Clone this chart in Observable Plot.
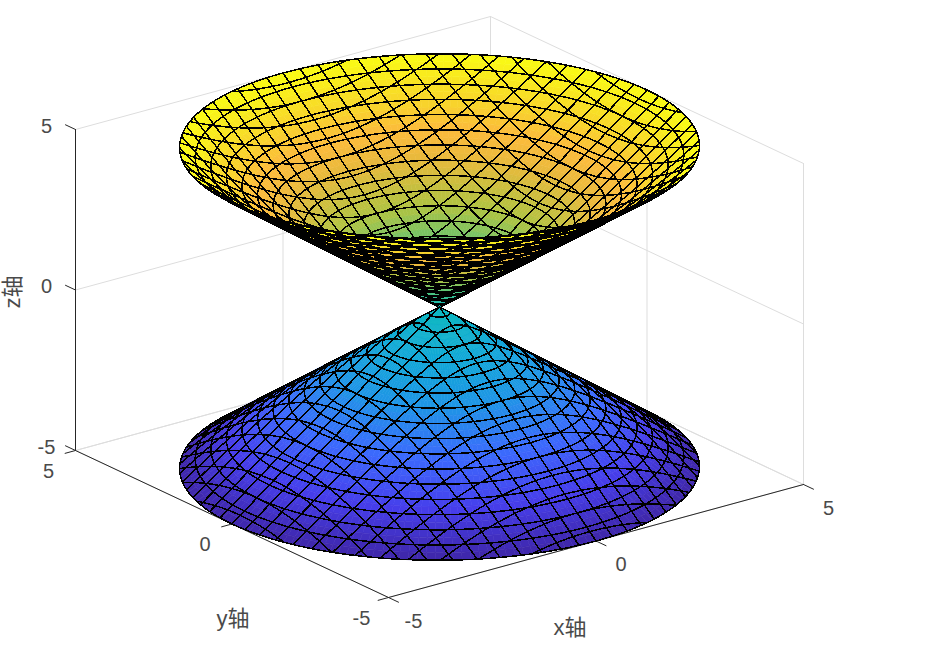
<!DOCTYPE html>
<html>
<head>
<meta charset="utf-8">
<script src="https://cdn.jsdelivr.net/npm/d3@7"></script>
<script src="https://cdn.jsdelivr.net/npm/@observablehq/plot@0.6"></script>
<style>html,body{margin:0;background:#fff}svg{display:block}</style>
</head>
<body>
<div id="chart"></div>
<script>
// Axis values
const xTicks = [-5, 0, 5];
const yTicks = [-5, 0, 5];
const zTicks = [-5, 0, 5];
const axisLabels = ["x轴", "y轴", "z轴"];
// Mesh lines: rings (radius) and lattice lines (x or y = c)
const ringRadii = [0.2, 0.5, 0.8, 1.1, 1.4, 1.7, 2, 2.3, 2.6, 2.9, 3.2, 3.5, 3.8, 4.1, 4.4, 4.7, 5];
const latticeOffsets = [-4.8, -4.4, -4, -3.6, -3.2, -2.8, -2.4, -2, -1.6, -1.2, -0.8, -0.4, 0, 0.4, 0.8, 1.2, 1.6, 2, 2.4, 2.8, 3.2, 3.6, 4, 4.4, 4.8];
// Height-to-colour stops
const colorZ = [-5, -4, -3, -2, -1, 0, 1, 2, 3, 3.5, 4, 5];
const colorRGB = ["#3e26a8", "#463eeb", "#3c69fd", "#1f94e6", "#10a9d6", "#0fb9be", "#4bc382", "#afc341", "#ebb93c", "#fcbb3c", "#f8d22d", "#f9fb14"];
// Mesh line weight of each visible sheet: inside of upper cone, outside of upper cone, lower cone
const meshWeights = [1.5, 2.2, 1.5];

// Oblique view of the axes box (screen units per data unit)
const vx = (x, y) => 41.5 * x - 31.3 * y;
const vy = (x, y, z) => 11.3 * x + 14.7 * y + 32.1 * z;
const at = (x, y, z, extra = {}) => ({px: vx(x, y), py: vy(x, y, z), ...extra});

const [lo, hi] = d3.extent(xTicks);
const mid = xTicks[1];

// Which side of a nappe faces the viewer at angle t
const facing = (t, s) => {
  const gx = vx(Math.cos(t), Math.sin(t)), gy = vy(Math.cos(t), Math.sin(t), s);
  const dx = vx(-Math.sin(t), Math.cos(t)), dy = vy(-Math.sin(t), Math.cos(t), 0);
  return Math.sign(gx * dy - gy * dx);
};
const farSign = facing(Math.PI / 4, 1);
const lowSign = facing(5 * Math.PI / 4, -1);
const layers = [{s: 1, sign: farSign}, {s: 1, sign: -farSign}, {s: -1, sign: lowSign}];

// Sector angles, including the exact silhouette angles of each nappe
function silhouettes(s) {
  const out = [];
  const ts = d3.range(0, 361, 2).map(d => d * Math.PI / 180);
  for (const [a, b] of d3.pairs(ts)) {
    if (facing(a, s) !== facing(b, s)) {
      let l = a, h = b;
      for (let i = 0; i < 30; i++) {
        const m = (l + h) / 2;
        if (facing(m, s) === facing(l, s)) l = m; else h = m;
      }
      out.push((l + h) / 2);
    }
  }
  return out;
}
function sectorAngles(s) {
  return [...d3.range(0, 361, 2).map(d => d * Math.PI / 180), ...silhouettes(s)].sort(d3.ascending);
}

// Colour cells of one layer
function cellsOf({s, sign}, key) {
  const rows = [];
  const fine = [0, ...ringRadii].flatMap((r, i, a) => i < a.length - 1 ? [r, (r + a[i + 1]) / 2] : [r]);
  let id = 0;
  for (const [t0, t1] of d3.pairs(sectorAngles(s))) {
    if (t1 - t0 < 1e-9 || facing((t0 + t1) / 2, s) !== sign) continue;
    for (const [r0, r1] of d3.pairs(fine)) {
      const tone = s * (r0 + r1) / 2;
      const cell = `${key}-${id++}`;
      for (const [r, t] of [[r0, t0], [r1, t0], [r1, t1], [r0, t1]]) {
        rows.push(at(r * Math.cos(t), r * Math.sin(t), s * r, {cell, tone}));
      }
    }
  }
  return rows;
}

// Mesh lines of one layer, cut wherever the surface turns away
function linesOf({s, sign}, key) {
  const rows = [];
  let id = 0;
  const push = pts => {
    let cur = null;
    for (const [x, y] of pts) {
      const r = Math.hypot(x, y);
      const ok = r < 1e-6 ? true : facing(Math.atan2(y, x), s) === sign;
      if (ok) {
        if (cur === null) cur = `${key}-l${id++}`;
        rows.push(at(x, y, s * r, {line: cur}));
      } else cur = null;
    }
  };
  for (const r of ringRadii) {
    push(d3.range(0, 361, 1).map(d => [r * Math.cos(d * Math.PI / 180), r * Math.sin(d * Math.PI / 180)]));
  }
  for (const c of latticeOffsets) {
    const Y = Math.sqrt(hi * hi - c * c);
    const ys = [...d3.range(-Y, Y, 0.05), Y];
    push(ys.map(y => [c, y]));
    push(ys.map(y => [y, c]));
  }
  const R = d3.max(ringRadii);
  for (const t of silhouettes(s)) {
    rows.push(at(0, 0, 0, {line: `${key}-s${t}`}));
    rows.push(at(R * Math.cos(t), R * Math.sin(t), s * R, {line: `${key}-s${t}`}));
  }
  return rows;
}

// Box: walls, grid, axes
const seg = (id, a, b) => [at(...a, {seg: id}), at(...b, {seg: id})];
const grid = [
  ...zTicks.flatMap((z, i) => [...seg(`gzx${i}`, [lo, hi, z], [hi, hi, z]), ...seg(`gzy${i}`, [hi, lo, z], [hi, hi, z])]),
  ...xTicks.flatMap((x, i) => [...seg(`gxw${i}`, [x, hi, lo], [x, hi, hi]), ...seg(`gxf${i}`, [x, lo, lo], [x, hi, lo])]),
  ...yTicks.flatMap((y, i) => [...seg(`gyw${i}`, [hi, y, lo], [hi, y, hi]), ...seg(`gyf${i}`, [lo, y, lo], [hi, y, lo])])
];
const axes = [
  ...seg("ax", [lo, lo, lo], [hi, lo, lo]),
  ...seg("ay", [lo, lo, lo], [lo, hi, lo]),
  ...seg("az", [lo, hi, lo], [lo, hi, hi]),
  ...xTicks.flatMap((x, i) => seg(`tx${i}`, [x, lo, lo], [x, lo - 0.32, lo])),
  ...yTicks.flatMap((y, i) => seg(`ty${i}`, [lo, y, lo], [lo - 0.25, y, lo])),
  ...zTicks.flatMap((z, i) => seg(`tz${i}`, [lo, hi, z], [lo, hi + 0.32, z]))
];

const textStyle = {fontFamily: "'Liberation Sans','Noto Sans CJK SC',sans-serif", fill: "#4a4a4a", stroke: null};
const tickLabel = (rows, dx, dy) => Plot.text(rows, {x: "px", y: "py", text: "label", dx, dy, fontSize: 20, ...textStyle});

const marks = [
  Plot.line(grid, {x: "px", y: "py", z: "seg", stroke: "#dddddd", strokeWidth: 1}),
  Plot.line(axes, {x: "px", y: "py", z: "seg", stroke: "#262626", strokeWidth: 1})
];
layers.forEach((layer, i) => {
  marks.push(Plot.line(cellsOf(layer, i), {x: "px", y: "py", z: "cell", fill: "tone", stroke: "tone", strokeWidth: 0.6, curve: "linear-closed"}));
  marks.push(Plot.line(linesOf(layer, i), {x: "px", y: "py", z: "line", stroke: "#000", strokeWidth: meshWeights[i], shapeRendering: "crispEdges"}));
});
marks.push(
  tickLabel(xTicks.map(x => at(x, lo, lo, {label: String(x)})), 25, 24),
  tickLabel(yTicks.map(y => at(lo, y, lo, {label: String(y)})), -27, 21),
  tickLabel(zTicks.map(z => at(lo, hi, z, {label: String(z)})), -29, -3),
  Plot.text([at(mid, lo, lo, {label: axisLabels[0]})], {x: "px", y: "py", text: "label", dx: -26, dy: 87, fontSize: 22, ...textStyle}),
  Plot.text([at(lo, mid, lo, {label: axisLabels[1]})], {x: "px", y: "py", text: "label", dx: 1, dy: 95, fontSize: 22, ...textStyle}),
  Plot.text([at(lo, hi, mid, {label: axisLabels[2]})], {x: "px", y: "py", text: "label", dx: -63, dy: 2, rotate: -90, fontSize: 22, ...textStyle})
);

const chart = Plot.plot({
  width: 929,
  height: 659,
  margin: 0,
  x: {axis: null, domain: [-439, 490], range: [0, 929]},
  y: {axis: null, domain: [-352.5, 306.5], range: [659, 0]},
  color: {type: "linear", domain: colorZ, range: colorRGB, interpolate: "rgb"},
  marks
});
document.getElementById("chart").append(chart);
</script>
</body>
</html>
